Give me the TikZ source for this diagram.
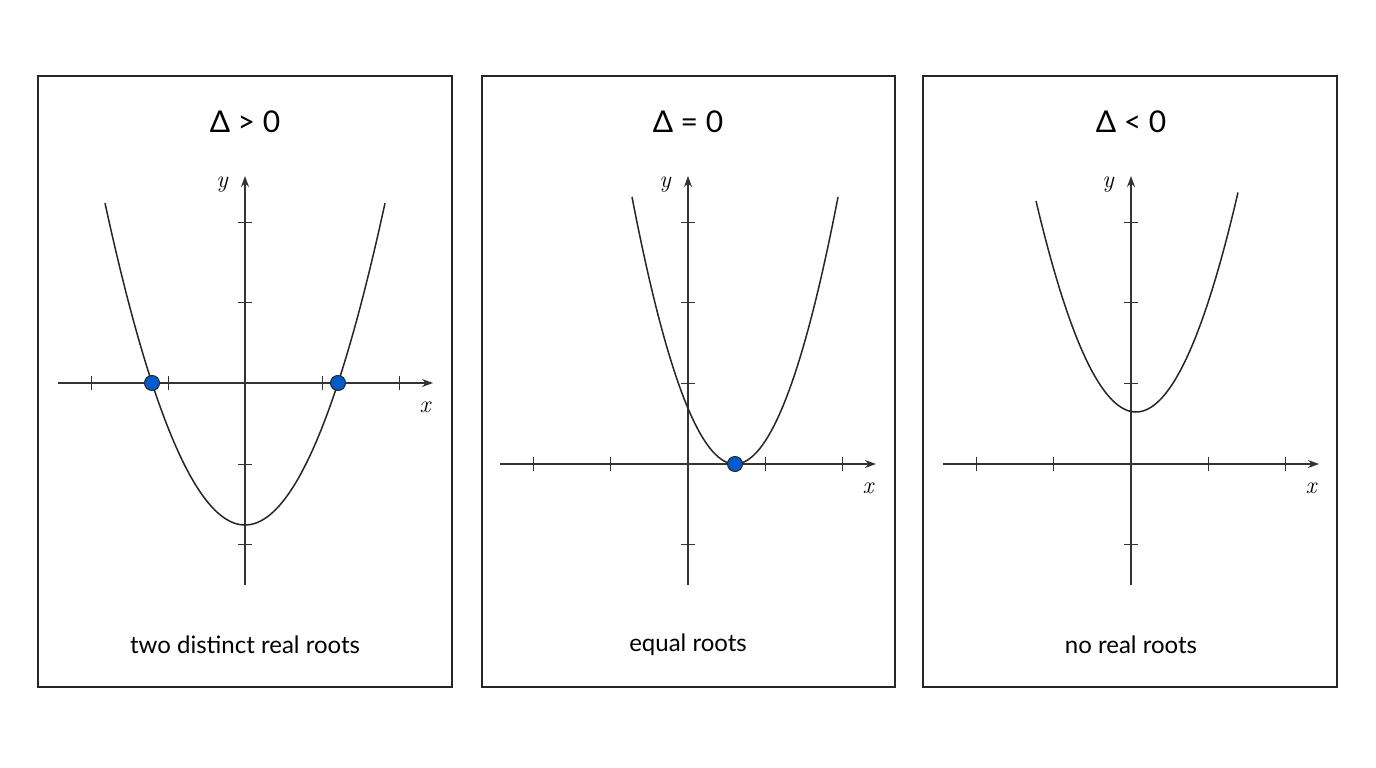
\documentclass[tikz,border=0pt]{standalone}
\usepackage{fontspec}
\setsansfont{Lato}
\usetikzlibrary{arrows.meta}
\begin{document}
\begin{tikzpicture}[x=1pt,y=-1pt,
  panel/.style={draw=black!85,line width=1.2pt},
  axis/.style={draw=black!80,line width=1.1pt,-{Stealth[length=11pt,width=8pt]}},
  tick/.style={draw=black!80,line width=0.8pt},
  curve/.style={draw=black!85,line width=1.5pt},
  root/.style={circle,fill=blue!55!cyan!80!black,draw=black!85,line width=1pt,minimum size=15pt,inner sep=0pt},
  ttl/.style={font=\sffamily\fontsize{30}{30}\selectfont},
  captxt/.style={font=\sffamily\fontsize{24}{24}\selectfont},
  lab/.style={font=\fontsize{24}{24}\selectfont\itshape}]
\useasboundingbox (0,0) rectangle (1376,768);
\fill[white] (0,0) rectangle (1376,768);
% panel 1
\node[panel,minimum width=414pt,minimum height=611pt,inner sep=0pt] (p1) at (245,381.5) {};
\node[ttl] (t1) at (245,122) {Δ > 0};
\node[captxt] (c1) at (245,645) {two distinct real roots};
\coordinate (x1a) at (58,383); \coordinate (x1b) at (433,383);
\coordinate (y1a) at (245,585); \coordinate (y1b) at (245,176);
\draw[axis] (x1a) -- (x1b); \draw[axis] (y1a) -- (y1b);
\foreach \t in {91,168,322,399} \draw[tick] (\t,376) -- (\t,390);
\foreach \t in {222,302,464,544} \draw[tick] (238,\t) -- (252,\t);
\draw[curve,domain=-140:140,samples=80] plot ({245+\x},{525-(0.12814*\x)^2});
\node[root] (r1) at (152,383) {}; \node[root] (r2) at (338,383) {};
\node[lab] (ly1) at (222,185) {y}; \node[lab] (lx1) at (425,407) {x};
% panel 2
\node[panel,minimum width=413pt,minimum height=611pt,inner sep=0pt] (p2) at (688.5,381.5) {};
\node[ttl] (t2) at (688,122) {Δ = 0};
\node[captxt] (c2) at (688,645) {equal roots};
\coordinate (x2a) at (500,464); \coordinate (x2b) at (876,464);
\coordinate (y2a) at (688,585); \coordinate (y2b) at (688,176);
\draw[axis] (x2a) -- (x2b); \draw[axis] (y2a) -- (y2b);
\foreach \t in {533,610,765,842} \draw[tick] (\t,457) -- (\t,471);
\foreach \t in {222,302,383,544} \draw[tick] (681,\t) -- (695,\t);
\draw[curve,domain=-103:103,samples=80] plot ({735+\x},{464-(0.15865*\x)^2});
\node[root] (r3) at (735,464) {};
\node[lab] (ly2) at (665,185) {y}; \node[lab] (lx2) at (868,488) {x};
% panel 3
\node[panel,minimum width=414pt,minimum height=611pt,inner sep=0pt] (p3) at (1130,381.5) {};
\node[ttl] (t3) at (1131,122) {Δ < 0};
\node[captxt] (c3) at (1131,645) {no real roots};
\coordinate (x3a) at (943,464); \coordinate (x3b) at (1319,464);
\coordinate (y3a) at (1131,585); \coordinate (y3b) at (1131,176);
\draw[axis] (x3a) -- (x3b); \draw[axis] (y3a) -- (y3b);
\foreach \t in {976,1053,1208,1285} \draw[tick] (\t,457) -- (\t,471);
\foreach \t in {222,302,383,544} \draw[tick] (1124,\t) -- (1138,\t);
\draw[curve,domain=-100:102,samples=80] plot ({1136+\x},{412-(0.14526*\x)^2});
\node[lab] (ly3) at (1108,185) {y}; \node[lab] (lx3) at (1311,488) {x};
\end{tikzpicture}
\end{document}
